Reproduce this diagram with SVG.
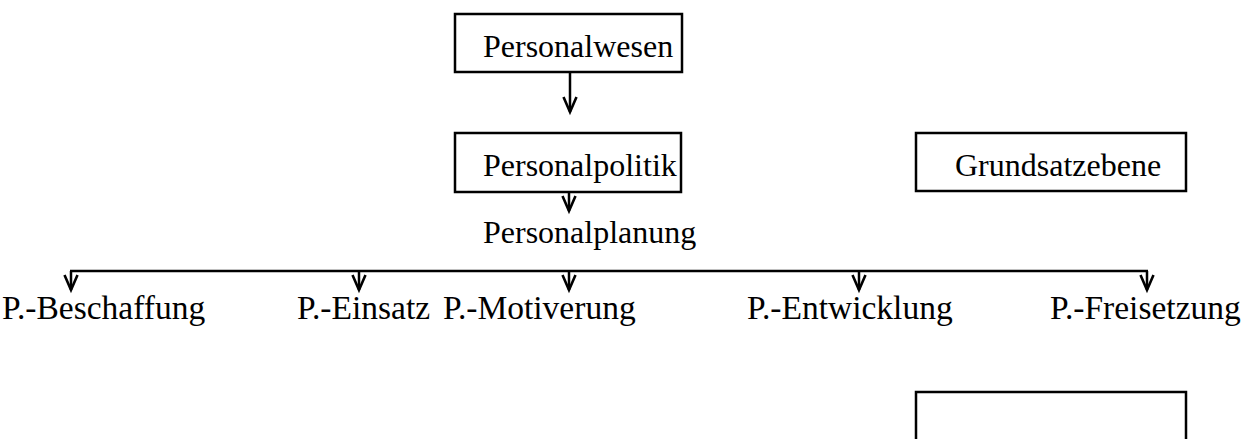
<svg xmlns="http://www.w3.org/2000/svg" width="1247" height="439" viewBox="0 0 1247 439">
  <style>
    .box { fill: #ffffff; stroke: #000000; stroke-width: 2.5; }
    .lbl { font-family: "Liberation Serif", "Times New Roman", serif; font-size: 32px; fill: #000000; }
    .sub { font-size: 33.5px; }
    .conn { fill: none; stroke: #000000; stroke-width: 2.5; }
  </style>
  <defs>
    <marker id="vhead" markerUnits="userSpaceOnUse" markerWidth="20" markerHeight="20" viewBox="-16 -10 20 20" refX="0" refY="0" orient="auto">
      <path d="M-15,-6.5 L0,0 L-15,6.5" fill="none" stroke="#000000" stroke-width="2.6" stroke-linejoin="miter"/>
    </marker>
  </defs>
  <rect width="1247" height="439" fill="#ffffff"/>

  <g id="connectors">
    <line class="conn" x1="570" y1="72" x2="570" y2="112" marker-end="url(#vhead)"/>
    <line class="conn" x1="569" y1="192" x2="569" y2="211" marker-end="url(#vhead)"/>
    <line class="conn" x1="70" y1="271" x2="1148" y2="271"/>
    <line class="conn" x1="71" y1="271" x2="71" y2="290" marker-end="url(#vhead)"/>
    <line class="conn" x1="359" y1="271" x2="359" y2="290" marker-end="url(#vhead)"/>
    <line class="conn" x1="569" y1="271" x2="569" y2="290" marker-end="url(#vhead)"/>
    <line class="conn" x1="859" y1="271" x2="859" y2="290" marker-end="url(#vhead)"/>
    <line class="conn" x1="1147" y1="271" x2="1147" y2="290" marker-end="url(#vhead)"/>
  </g>

  <g id="node-personalwesen">
    <rect class="box" x="455" y="14" width="227" height="58"/>
    <text class="lbl" x="483" y="57">Personalwesen</text>
  </g>
  <g id="node-personalpolitik">
    <rect class="box" x="455" y="133" width="226" height="59"/>
    <text class="lbl" x="483" y="176">Personalpolitik</text>
  </g>
  <g id="node-grundsatzebene">
    <rect class="box" x="916" y="133" width="270" height="58"/>
    <text class="lbl" x="955" y="176">Grundsatzebene</text>
  </g>
  <g id="node-personalplanung">
    <text class="lbl" x="483" y="243">Personalplanung</text>
  </g>
  <g id="node-beschaffung">
    <text class="lbl sub" x="2" y="319">P.-Beschaffung</text>
  </g>
  <g id="node-einsatz">
    <text class="lbl sub" x="297" y="319">P.-Einsatz</text>
  </g>
  <g id="node-motiverung">
    <text class="lbl sub" x="443" y="319">P.-Motiverung</text>
  </g>
  <g id="node-entwicklung">
    <text class="lbl sub" x="747" y="319">P.-Entwicklung</text>
  </g>
  <g id="node-freisetzung">
    <text class="lbl sub" x="1050" y="319">P.-Freisetzung</text>
  </g>
  <g id="node-bottom-box">
    <rect class="box" x="916" y="392" width="270" height="80"/>
  </g>
</svg>
